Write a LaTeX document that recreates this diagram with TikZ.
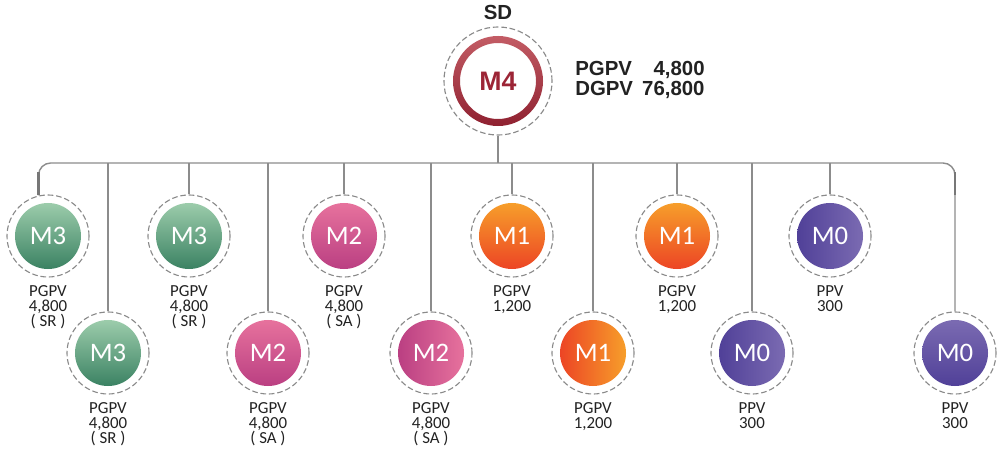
\documentclass[tikz,border=0pt]{standalone}
\usepackage{fontspec}
\setmainfont{Liberation Sans}
\newfontfamily\lblfont{Carlito}
\usetikzlibrary{positioning}

\definecolor{srtop}{HTML}{A8D5B4}
\definecolor{srbot}{HTML}{2F795A}
\definecolor{satop}{HTML}{EC78A0}
\definecolor{sabot}{HTML}{B5397F}
\definecolor{oneA}{HTML}{F8A92B}
\definecolor{oneB}{HTML}{EB3A24}
\definecolor{zeroA}{HTML}{4B3B95}
\definecolor{zeroB}{HTML}{8070B5}
\definecolor{m4top}{HTML}{C8626A}
\definecolor{m4bot}{HTML}{8A1B2B}
\definecolor{m4text}{HTML}{9C2536}
\definecolor{halo}{HTML}{8A8A8A}
\definecolor{wire}{HTML}{8C8C8C}
\definecolor{ink}{HTML}{222222}

\begin{document}
\begin{tikzpicture}[x=0.025cm, y=-0.025cm,
    member/.style={circle, draw=halo, dash pattern=on 4pt off 2pt, line width=0.8pt, minimum size=2.05cm, inner sep=0pt, text=white, font=\lblfont\fontsize{19}{19}\selectfont, path picture={\shade[#1] (path picture bounding box.center) circle[radius=0.825cm];}},
    m3/.style={member={top color=srtop, bottom color=srbot}},
    m2/.style={member={top color=satop, bottom color=sabot}},
    m2h/.style={member={left color=sabot, right color=satop}},
    m1/.style={member={top color=oneA, bottom color=oneB}},
    m1h/.style={member={left color=oneB, right color=oneA}},
    m0/.style={member={top color=zeroB, bottom color=zeroA}},
    m0h/.style={member={left color=zeroA, right color=zeroB}},
    leader/.style={circle, draw=halo, dash pattern=on 4pt off 2pt, line width=0.8pt, minimum size=2.7cm, inner sep=0pt, text=m4text, font=\bfseries\fontsize{19}{19}\selectfont, path picture={\shade[top color=m4top, bottom color=m4bot, even odd rule] (path picture bounding box.center) circle[radius=1.125cm] circle[radius=0.95cm];}},
    lbl/.style={align=center, inner sep=0pt, text=ink, font=\lblfont\fontsize{12}{10.7}\selectfont},
    info/.style={inner sep=0pt, text=ink, font=\bfseries\fontsize{14.5}{14.2}\selectfont},
    link/.style={draw=wire, line width=1pt},
    stub/.style={draw=wire!85!black, line width=2pt}
]
    \useasboundingbox (0,0) rectangle (1000,453);

    % Sponsor
    \node[leader] (m4) at (498,81) {M4};
    \node[info, above=0.17cm of m4] (sd) {SD};
    \node[info, anchor=west] (m4-pv) at (575,81) {\begin{tabular}{@{}l@{\hspace{0.45em}}r@{}}PGPV & 4,800\\ DGPV & 76,800\end{tabular}};

    % Upper row
    \node[m3] (m3a) at (48,236) {M3};
    \node[m3] (m3b) at (189,236) {M3};
    \node[m2] (m2a) at (344,236) {M2};
    \node[m1] (m1a) at (512,236) {M1};
    \node[m1] (m1b) at (677,236) {M1};
    \node[m0h] (m0a) at (830,236) {M0};

    % Lower row
    \node[m3] (m3c) at (108,353) {M3};
    \node[m2] (m2b) at (268,353) {M2};
    \node[m2h] (m2c) at (431,353) {M2};
    \node[m1h] (m1c) at (593,353) {M1};
    \node[m0h] (m0b) at (752,353) {M0};
    \node[m0] (m0c) at (955,353) {M0};

    % Values
    \node[lbl, below=0.2cm of m3a] (m3a-txt) {PGPV\\4,800\\( SR )};
    \node[lbl, below=0.2cm of m3b] (m3b-txt) {PGPV\\4,800\\( SR )};
    \node[lbl, below=0.2cm of m3c] (m3c-txt) {PGPV\\4,800\\( SR )};
    \node[lbl, below=0.2cm of m2a] (m2a-txt) {PGPV\\4,800\\( SA )};
    \node[lbl, below=0.2cm of m2b] (m2b-txt) {PGPV\\4,800\\( SA )};
    \node[lbl, below=0.2cm of m2c] (m2c-txt) {PGPV\\4,800\\( SA )};
    \node[lbl, below=0.2cm of m1a] (m1a-txt) {PGPV\\1,200};
    \node[lbl, below=0.2cm of m1b] (m1b-txt) {PGPV\\1,200};
    \node[lbl, below=0.2cm of m1c] (m1c-txt) {PGPV\\1,200};
    \node[lbl, below=0.2cm of m0a] (m0a-txt) {PPV\\300};
    \node[lbl, below=0.2cm of m0b] (m0b-txt) {PPV\\300};
    \node[lbl, below=0.2cm of m0c] (m0c-txt) {PPV\\300};

    % Lines
    \coordinate (bus) at (498,163);
    \coordinate (rstub) at (m0c.north |- m3a.103);
    \draw[link] (m4) -- (bus);
    \draw[link, rounded corners=0.3cm] (m3a.103) |- (bus) -| (m0c.north);
    \draw[stub] (m3a.103) -- ++(0,-23);
    \draw[stub] (rstub) -- ++(0,-23);
    \foreach \n in {m3b,m3c,m2a,m2b,m2c,m1a,m1b,m1c,m0a,m0b}
        \draw[link] (\n.north) -- (\n.north |- bus);
\end{tikzpicture}
\end{document}
